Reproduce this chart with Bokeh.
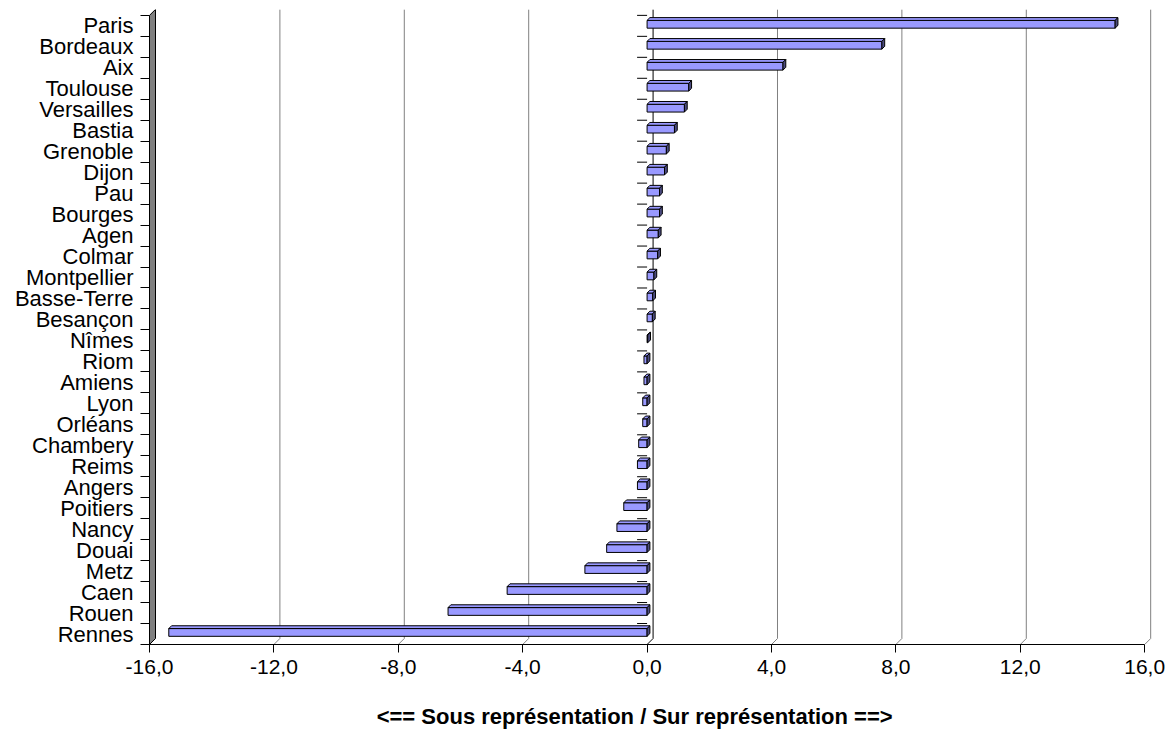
from bokeh.plotting import figure
from bokeh.models import FixedTicker, Range1d
from bokeh.embed import file_html
from bokeh.resources import INLINE

# ---------------- data ----------------
cities = ["Paris", "Bordeaux", "Aix", "Toulouse", "Versailles", "Bastia", "Grenoble",
          "Dijon", "Pau", "Bourges", "Agen", "Colmar", "Montpellier", "Basse-Terre",
          "Besançon", "Nîmes", "Riom", "Amiens", "Lyon", "Orléans", "Chambery",
          "Reims", "Angers", "Poitiers", "Nancy", "Douai", "Metz", "Caen", "Rouen",
          "Rennes"]
values = [15.05, 7.55, 4.37, 1.34, 1.20, 0.88, 0.62,
          0.56, 0.40, 0.40, 0.36, 0.34, 0.22, 0.18,
          0.17, 0.02, -0.10, -0.10, -0.14, -0.14, -0.27,
          -0.31, -0.31, -0.75, -0.97, -1.30, -2.00, -4.50, -6.40,
          -15.38]
x_ticks = [-16, -12, -8, -4, 0, 4, 8, 12, 16]
x_title = "<== Sous représentation / Sur représentation ==>"

# ---------------- layout constants ----------------
FONT = "Liberation Sans"
W, H = 1174, 731
X0, X1 = -16.0, 16.38
Y0, Y1 = -0.5, 29.78
PXX = 1007 / (X1 - X0)          # px per x unit
PXY = 635 / (Y1 - Y0)           # px per y unit
DX, DY = 6 / PXX, 6 / PXY       # wall / grid depth
BDX, BDY = 2.8 / PXX, 2.8 / PXY # bar depth
B_LO, B_HI = -0.11, 0.26        # bar front face relative to category centre
BAR = "#9999FF"
SIDE = "#4C4C80"

n = len(cities)
ypos = [n - 1 - i for i in range(n)]
ytop = n - 0.5

p = figure(width=W, height=H, x_range=Range1d(X0, X1), y_range=Range1d(Y0, Y1),
           output_backend="svg", toolbar_location=None,
           min_border_left=149, min_border_right=18, min_border_top=9,
           min_border_bottom=87)
p.outline_line_color = None
p.xgrid.visible = False
p.ygrid.visible = False
p.background_fill_color = "white"
p.border_fill_color = "white"

# back-wall gridlines (bent at the floor)
grid_vals = [v for v in x_ticks if v not in (x_ticks[0], 0)]
p.multi_line(xs=[[v, v + DX, v + DX] for v in grid_vals],
             ys=[[Y0, Y0 + DY, ytop + DY] for _ in grid_vals],
             line_color="#808080", line_width=1)
# zero line
p.line(x=[0, DX, DX], y=[Y0, Y0 + DY, ytop + DY], line_color="black", line_width=1)
# category tick marks at zero
bounds_y = [i - 0.5 for i in range(n + 1)]
p.segment(x0=[-10 / PXX] * len(bounds_y), x1=[0] * len(bounds_y),
          y0=bounds_y, y1=bounds_y, line_color="black", line_width=1)

# left wall
p.patch(x=[X0, X0, X0 + DX, X0 + DX], y=[Y0, ytop, ytop + DY, Y0 + DY],
        fill_color="#808080", line_color="black", line_width=1)

# 3D bars
lo = [min(0, v) for v in values]
hi = [max(0, v) for v in values]
top_xs, top_ys, side_xs, side_ys = [], [], [], []
for a, b, c in zip(lo, hi, ypos):
    yt = c + B_HI
    yb = c + B_LO
    top_xs.append([a, b, b + BDX, a + BDX])
    top_ys.append([yt, yt, yt + BDY, yt + BDY])
    side_xs.append([b, b, b + BDX, b + BDX])
    side_ys.append([yb, yt, yt + BDY, yb + BDY])
p.quad(left=lo, right=hi, bottom=[c + B_LO for c in ypos], top=[c + B_HI for c in ypos],
       fill_color=BAR, line_color="black", line_width=1)
p.patches(xs=top_xs, ys=top_ys, fill_color=BAR, line_color="black", line_width=1)
p.patches(xs=side_xs, ys=side_ys, fill_color=SIDE, line_color="black", line_width=1)

# x axis
xa = p.xaxis[0]
xa.ticker = FixedTicker(ticks=x_ticks)
xa.major_label_overrides = {t: f"{t:.1f}".replace(".", ",") for t in x_ticks}
xa.bounds = (x_ticks[0], x_ticks[-1])
xa.axis_line_color = "black"
xa.major_tick_out = 8
xa.major_tick_in = 0
xa.minor_tick_line_color = None
xa.major_label_standoff = 7
xa.major_label_text_font = FONT
xa.major_label_text_font_size = "21px"
xa.major_label_text_color = "black"
# trailing no-break spaces nudge the centred title slightly left, as in the original
xa.axis_label = x_title + "\u00a0" * 6
xa.axis_label_text_font = FONT
xa.axis_label_text_font_style = "bold"
xa.axis_label_text_font_size = "22px"
xa.axis_label_text_color = "black"
xa.axis_label_standoff = 27

# y axis (labels at centres, ticks between categories)
ya = p.yaxis[0]
ya.ticker = FixedTicker(ticks=ypos, minor_ticks=bounds_y)
ya.major_label_overrides = {c: name for c, name in zip(ypos, cities)}
ya.bounds = (Y0, ytop)
ya.axis_line_color = "black"
ya.major_tick_out = 0
ya.major_tick_in = 0
ya.minor_tick_out = 9
ya.minor_tick_in = 0
ya.minor_tick_line_color = "black"
ya.major_label_standoff = 7
ya.major_label_text_font = FONT
ya.major_label_text_font_size = "22px"
ya.major_label_text_color = "black"

open("out.html", "w").write(file_html(p, INLINE))
